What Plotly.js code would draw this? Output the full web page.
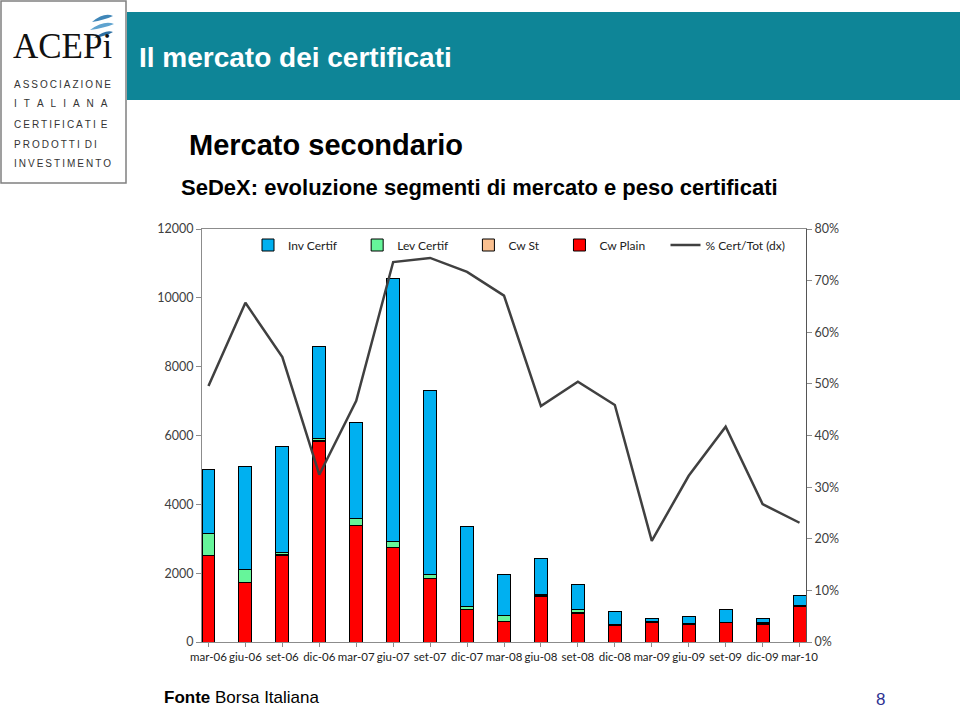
<!DOCTYPE html>
<html>
<head>
<meta charset="utf-8">
<script src="https://cdn.plot.ly/plotly-3.0.1.min.js"></script>
<style>
html,body{margin:0;padding:0;background:#fff;}
#chart{width:960px;height:709px;}
</style>
</head>
<body>
<div id="chart"></div>
<script>
// ---- data ----
var categories = ["mar-06","giu-06","set-06","dic-06","mar-07","giu-07","set-07","dic-07","mar-08","giu-08","set-08","dic-08","mar-09","giu-09","set-09","dic-09","mar-10"];
var seriesNames = ["Inv Certif","Lev Certif","Cw St","Cw Plain","% Cert/Tot (dx)"];
var cwPlain  = [2500,1730,2520,5830,3380,2740,1840, 930, 600,1320, 840, 470, 560, 515, 560, 520,1030];
var cwSt     = [  20,  10,  20,  30,  10,  10,  10,  10,  10,  20,  10,  20,  10,  10,  10,  10,  20];
var levCertif= [ 640, 380,  70,  40, 200, 170, 100,  90, 150,  40, 100,  10,  40,  10,  10,  50,  10];
var invCertif= [1850,2980,3060,2700,2790,7650,5350,2340,1190,1040, 730, 380,  80, 220, 370, 110, 280];
var pctCertTot=[0.496,0.657,0.552,0.324,0.467,0.736,0.744,0.717,0.671,0.457,0.504,0.459,0.196,0.322,0.417,0.267,0.231];

// ---- geometry helpers (pixel -> paper) ----
var L=202, R=806, T=229, B=642;
function px(x){return (x-L)/(R-L);}
function py(y){return (B-y)/(B-T);}
var PAD = '\u00a0\u00a0\u00a0\u00a0\u00a0';

var barLine = {color:'#000', width:1};
var tickFont = {family:'Lato, "Liberation Sans", sans-serif', size:12.5, color:'#404040'};

var traces = [
  {type:'bar', name:seriesNames[3]+PAD, x:categories, y:cwPlain, marker:{color:'#FF0000', line:barLine}, width:0.35, legendrank:4},
  {type:'bar', name:seriesNames[2]+PAD, x:categories, y:cwSt, marker:{color:'#FAC090', line:barLine}, width:0.35, legendrank:3},
  {type:'bar', name:seriesNames[1]+PAD, x:categories, y:levCertif, marker:{color:'#66F59A', line:barLine}, width:0.35, legendrank:2},
  {type:'bar', name:seriesNames[0]+PAD, x:categories, y:invCertif, marker:{color:'#00B0F0', line:barLine}, width:0.35, legendrank:1},
  {type:'scatter', mode:'lines', name:seriesNames[4], x:categories, y:pctCertTot, yaxis:'y2', line:{color:'#404040', width:2.5}, legendrank:5}
];

var shapes = [
  // logo box
  {type:'rect', xref:'paper', yref:'paper', x0:px(1), x1:px(126), y0:py(1), y1:py(183), line:{color:'#808080', width:1.5}, fillcolor:'#fff', layer:'above'},
  // header banner
  {type:'rect', xref:'paper', yref:'paper', x0:px(127), x1:px(961), y0:py(12), y1:py(100), line:{width:0}, fillcolor:'#0E8597', layer:'above'},
  // logo swoosh
  {type:'path', xref:'paper', yref:'paper', layer:'above', fillcolor:'#3F86B8', line:{width:0},
   path:'M '+px(92)+','+py(22)+' Q '+px(104)+','+py(12)+' '+px(113)+','+py(16)+' Q '+px(104)+','+py(20)+' '+px(92)+','+py(22)+' Z'},
  {type:'path', xref:'paper', yref:'paper', layer:'above', fillcolor:'#5FA3CF', line:{width:0},
   path:'M '+px(90)+','+py(30)+' Q '+px(104)+','+py(20)+' '+px(114)+','+py(24)+' Q '+px(104)+','+py(28)+' '+px(90)+','+py(30)+' Z'},
  {type:'path', xref:'paper', yref:'paper', layer:'above', fillcolor:'#2C6FA3', line:{width:0},
   path:'M '+px(94)+','+py(38)+' Q '+px(106)+','+py(29)+' '+px(113)+','+py(32)+' Q '+px(106)+','+py(36)+' '+px(94)+','+py(38)+' Z'}
];

function ann(text,x,y,opts){
  var a={text:text, xref:'paper', yref:'paper', x:px(x), y:py(y), xanchor:'left', yanchor:'middle', showarrow:false};
  for(var k in opts) a[k]=opts[k];
  return a;
}
function spaced(s){return s.split('').join('\u2009');}
var logoFont = {family:'"Liberation Sans", Arial, sans-serif', size:10, color:'#333'};
var annotations = [
  ann('ACEPi',11,46,{font:{family:'"Liberation Serif","DejaVu Serif",serif', size:35, color:'#111'}}),
  ann(spaced('ASSOCIAZIONE'),12,85,{font:logoFont}),
  ann('ITALIANA'.split('').join('\u2002\u2009'),12,104,{font:logoFont}),
  ann(spaced('CERTIFICATI')+'\u2002E',12,124,{font:logoFont}),
  ann(spaced('PRODOTTI')+'\u2002'+spaced('DI'),12,144,{font:logoFont}),
  ann(spaced('INVESTIMENTO'),12,163,{font:logoFont}),
  ann('<b>Il mercato dei certificati</b>',137,57,{font:{family:'"Liberation Sans", Arial, sans-serif', size:28, color:'#ffffff'}}),
  ann('<b>Mercato secondario</b>',187,145,{font:{family:'"Liberation Sans", Arial, sans-serif', size:29, color:'#000'}}),
  ann('<b>SeDeX: evoluzione segmenti di mercato e peso certificati</b>',179,187,{font:{family:'"Liberation Sans", Arial, sans-serif', size:22, color:'#000'}}),
  ann('<b>Fonte</b> Borsa Italiana',162,697,{font:{family:'"Liberation Sans", Arial, sans-serif', size:17, color:'#000'}}),
  ann('8',874,699,{font:{family:'"Liberation Sans", Arial, sans-serif', size:17, color:'#2E3192'}})
];

var layout = {
  width:960, height:709,
  margin:{l:L, r:960-R, t:T, b:709-B, pad:0},
  paper_bgcolor:'#fff', plot_bgcolor:'#fff',
  barmode:'stack',
  showlegend:true,
  legend:{orientation:'h', traceorder:'normal', x:px(248), y:py(245), xanchor:'left', yanchor:'middle',
          font:{family:'Lato, "Liberation Sans", sans-serif', size:12, color:'#222'},
          bgcolor:'rgba(0,0,0,0)', itemwidth:30},
  xaxis:{type:'category', range:[-0.175,16.175], showline:true, linecolor:'#8c8c8c', linewidth:1, mirror:true,
         ticks:'outside', ticklen:4, tickcolor:'#8c8c8c', tickangle:0,
         tickfont:{family:'Lato, "Liberation Sans", sans-serif', size:11.5, color:'#222'}, showgrid:false, zeroline:false},
  yaxis:{range:[0,12000], dtick:2000, tickformat:'d', showline:true, linecolor:'#8c8c8c', linewidth:1,
         ticks:'outside', ticklen:5, tickcolor:'#8c8c8c', showgrid:false, zeroline:false, tickfont:tickFont},
  yaxis2:{overlaying:'y', side:'right', range:[0,0.8], dtick:0.1, tickformat:'.0%', showline:true, linecolor:'#555', linewidth:1,
          ticks:'outside', ticklen:5, tickcolor:'#8c8c8c', showgrid:false, zeroline:false, tickfont:tickFont},
  shapes:shapes,
  annotations:annotations
};

Plotly.newPlot('chart', traces, layout, {displayModeBar:false, staticPlot:true});
</script>
</body>
</html>
